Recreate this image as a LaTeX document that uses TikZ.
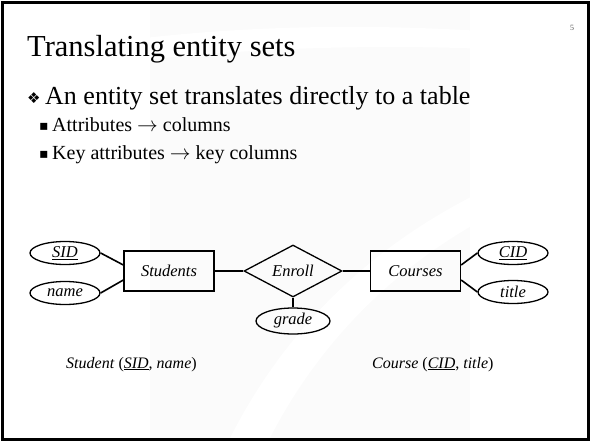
\documentclass[tikz,border=0pt]{standalone}
\usepackage{fontspec}
\setmainfont{Liberation Serif}
\newfontfamily\dejavu{DejaVu Sans}
\usetikzlibrary{shapes.geometric}
\begin{document}
\begin{tikzpicture}[x=1pt,y=-1pt,
  ent/.style={draw,line width=1.3pt,minimum width=90pt,minimum height=40pt,inner sep=0pt,font=\fontsize{16.5}{16.5}\selectfont\itshape},
  attr/.style={draw,ellipse,line width=1.3pt,minimum width=70pt,minimum height=23pt,inner sep=0pt,font=\fontsize{16.5}{16.5}\selectfont\itshape},
  rel/.style={draw,diamond,aspect=1.9,line width=1.3pt,minimum width=98pt,minimum height=52pt,inner sep=0pt,font=\fontsize{16.5}{16.5}\selectfont\itshape},
  conn/.style={line width=1.6pt},
  txt/.style={anchor=base west,inner sep=0pt}]
\useasboundingbox (0,0) rectangle (591,442);
% faint background watermark
\fill[gray!3] (150,4) rectangle (470,438);
\fill[white] (230,438) .. controls (300,300) and (420,200) .. (589,150) -- (589,175) .. controls (440,220) and (330,320) .. (270,438) -- cycle;
\fill[white] (4,60) .. controls (200,20) and (400,20) .. (589,40) -- (589,55) .. controls (400,40) and (200,45) .. (4,80) -- cycle;
% frame
\draw[line width=2.5pt] (2.5,2.5) rectangle (588.5,439.5);
% page number
\node[txt,text=gray!70!black,font=\fontsize{8}{8}\selectfont] (pn) at (570,30) {5};
% title
\node[txt,font=\fontsize{30.5}{30.5}\selectfont] (title) at (27,56) {Translating entity sets};
% bullets
\node[txt,font=\dejavu\fontsize{15}{15}\selectfont] (b1) at (27,103) {❖};
\node[txt,font=\fontsize{26}{26}\selectfont] (t1) at (45,104) {An entity set translates directly to a table};
\node[txt,font=\dejavu\fontsize{14}{14}\selectfont] (b2) at (39,130) {▪};
\node[txt,font=\fontsize{20}{20}\selectfont] (t2) at (52,131) {Attributes $\rightarrow$ columns};
\node[txt,font=\dejavu\fontsize{14}{14}\selectfont] (b3) at (39,158) {▪};
\node[txt,font=\fontsize{20}{20}\selectfont] (t3) at (52,159) {Key attributes $\rightarrow$ key columns};
% ER diagram
\node[attr] (sid) at (65,253) {\underline{SID}};
\node[attr] (name) at (65,293) {name};
\node[ent] (stu) at (169,271) {Students};
\node[rel] (enr) at (293,271) {Enroll};
\node[attr,minimum width=74pt,minimum height=26pt] (grade) at (293,321) {grade};
\node[ent] (crs) at (415.5,271) {Courses};
\node[attr] (cid) at (513,253) {\underline{CID}};
\node[attr] (ttl) at (513,292) {title};
\draw[conn] (sid.east) -- ([yshift=6pt]stu.west);
\draw[conn] (name.east) -- ([yshift=-9pt]stu.west);
\draw[conn] (stu.east) -- (enr.west);
\draw[conn] (enr.east) -- (crs.west);
\draw[conn] (enr.south) -- (grade.north);
\draw[conn] (cid.west) -- ([yshift=6pt]crs.east);
\draw[conn] (ttl.west) -- ([yshift=-9pt]crs.east);
% relations
\node[txt,font=\fontsize{16}{16}\selectfont] (r1) at (66,368) {\textit{Student} (\textit{\underline{SID}}, \textit{name})};
\node[txt,font=\fontsize{16}{16}\selectfont] (r2) at (372,368) {\textit{Course} (\textit{\underline{CID}}, \textit{title})};
\end{tikzpicture}
\end{document}
